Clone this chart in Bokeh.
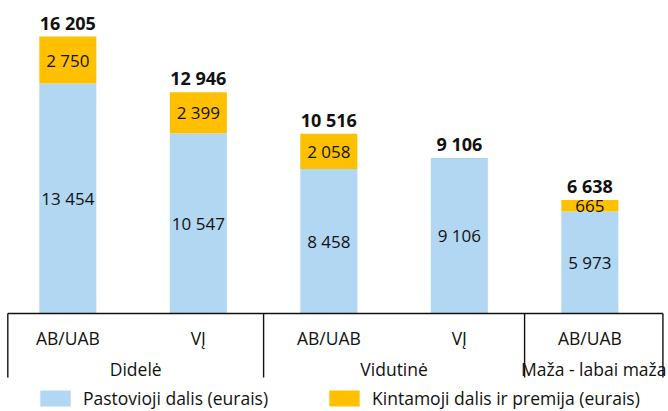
from bokeh.plotting import figure
from bokeh.models import ColumnDataSource, Legend, LegendItem, Range1d
from bokeh.core.properties import value
from bokeh.embed import file_html
from bokeh.resources import INLINE

# ---- data ----
types = ["AB/UAB", "VĮ", "AB/UAB", "VĮ", "AB/UAB"]
sizes = ["Didelė", "Didelė", "Vidutinė", "Vidutinė", "Maža - labai maža"]
fixed_part = [13454, 10547, 8458, 9106, 5973]
variable_part = [2750, 2399, 2058, 0, 665]
totals = [16205, 12946, 10516, 9106, 6638]
series_names = ["Pastovioji dalis (eurais)", "Kintamoji dalis ir premija (eurais)"]

# ---- style / layout ----
BLUE = "#B2D7F2"
ORANGE = "#FFC000"
TXT = "#111111"
FONT = "Open Sans"
W, H = 668, 411
PX_PER_X = 130.5
PX_PER_Y = 0.01709
X_START = -0.516
BASE_PX = 313

def fmt(v):
    return f"{v:,}".replace(",", " ")

xs = list(range(len(types)))

p = figure(width=W, height=H, output_backend="svg", toolbar_location=None,
           x_range=Range1d(X_START, X_START + W / PX_PER_X),
           y_range=Range1d(-(H - BASE_PX) / PX_PER_Y, BASE_PX / PX_PER_Y),
           x_axis_type=None, y_axis_type=None,
           min_border=0, min_border_left=0, min_border_right=0,
           min_border_top=0, min_border_bottom=0,
           outline_line_color=None, background_fill_color="white",
           border_fill_color="white")
p.grid.visible = False

src = ColumnDataSource(dict(x=xs, fixed=fixed_part, variable=variable_part))
rs = p.vbar_stack(["fixed", "variable"], x="x", width=0.437, source=src,
                  fill_color=[BLUE, ORANGE], line_color=None)

# value labels inside bars
fixed_src = ColumnDataSource(dict(x=xs, y=[f / 2 for f in fixed_part],
                                  t=[fmt(f) for f in fixed_part]))
p.text(x="x", y="y", text="t", source=fixed_src, text_align="center",
       text_baseline="middle", text_font=value(FONT), text_font_size="17px",
       text_color=TXT)

vx, vy, vt = [], [], []
for i, (f, v) in enumerate(zip(fixed_part, variable_part)):
    if v > 0:
        vx.append(i); vy.append(f + v / 2); vt.append(fmt(v))
p.text(x=vx, y=vy, text=vt, text_align="center", text_baseline="middle",
       text_font=value(FONT), text_font_size="17px", text_color=TXT)

# totals above bars
p.text(x=xs, y=totals, text=[fmt(t) for t in totals], text_align="center",
       text_baseline="middle", y_offset=-14, text_font=value(FONT),
       text_font_size="18px", text_font_style="bold", text_color=TXT)

# category table below
p.text(x=xs, y=[-24 / PX_PER_Y] * len(xs), text=types, text_align="center",
       text_baseline="middle", text_font=value(FONT), text_font_size="17.5px",
       text_color=TXT)

group_names, group_first, group_last = [], [], []
for i, g in enumerate(sizes):
    if not group_names or group_names[-1] != g:
        group_names.append(g); group_first.append(i); group_last.append(i)
    else:
        group_last[-1] = i

bounds = [group_first[0] - 0.46]
for k in range(1, len(group_names)):
    bounds.append((group_last[k - 1] + group_first[k]) / 2)
bounds.append(group_last[-1] + 0.56)

gx = [(bounds[k] + bounds[k + 1]) / 2 for k in range(len(group_names))]
p.text(x=gx, y=[-55 / PX_PER_Y] * len(gx), text=group_names, text_align="center",
       text_baseline="middle", text_font=value(FONT), text_font_size="17.5px",
       text_color=TXT)

p.segment(x0=[bounds[0]], y0=[0], x1=[bounds[-1]], y1=[0], line_color=TXT,
          line_width=1.4)
p.segment(x0=bounds, y0=[0] * len(bounds), x1=bounds,
          y1=[-64 / PX_PER_Y] * len(bounds), line_color=TXT, line_width=1.4)

legend = Legend(items=[LegendItem(label=series_names[0], renderers=[rs[0]]),
                       LegendItem(label=series_names[1], renderers=[rs[1]])],
                location=(36, 1), orientation="horizontal",
                glyph_width=38, glyph_height=20, label_standoff=9, spacing=57,
                padding=0, margin=0, border_line_color=None,
                background_fill_alpha=0, label_text_font=FONT,
                label_text_font_size="17.5px", label_text_color=TXT,
                label_height=20)
p.add_layout(legend)

open("out.html", "w").write(file_html(p, INLINE))
